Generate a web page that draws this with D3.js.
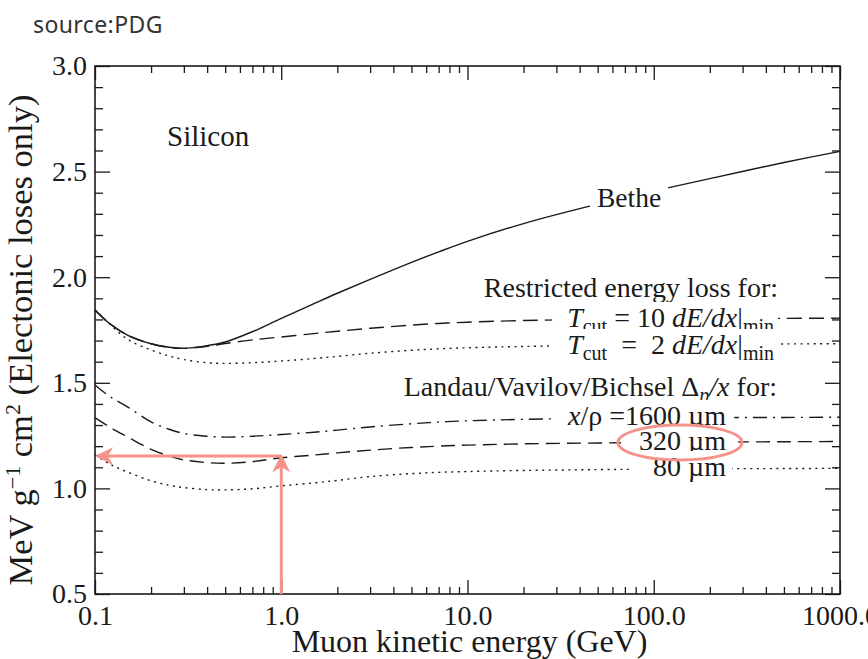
<!DOCTYPE html>
<html>
<head>
<meta charset="utf-8">
<script src="https://cdn.jsdelivr.net/npm/d3@7"></script>
<style>
  html, body { margin: 0; padding: 0; background: #fff; }
  svg { display: block; }
  text { white-space: pre; }
</style>
</head>
<body>
<svg id="chart" width="868" height="659"></svg>
<script>
// ---------------- data ----------------
const energies      = [0.1, 0.12, 0.15, 0.2, 0.25, 0.3, 0.4, 0.5, 0.7, 1, 1.5, 2, 3, 5, 7, 10, 20, 50, 100, 200, 500, 1000];
const betheValues   = [1.845, 1.780, 1.725, 1.685, 1.668, 1.663, 1.676, 1.693, 1.742, 1.805, 1.875, 1.924, 1.990, 2.070, 2.120, 2.170, 2.254, 2.346, 2.408, 2.467, 2.543, 2.596];
const tcut10Values  = [1.845, 1.780, 1.725, 1.685, 1.668, 1.663, 1.673, 1.686, 1.703, 1.717, 1.733, 1.744, 1.758, 1.773, 1.781, 1.787, 1.795, 1.800, 1.802, 1.803, 1.805, 1.806];
const tcut2Values   = [1.845, 1.778, 1.705, 1.655, 1.627, 1.610, 1.595, 1.592, 1.595, 1.603, 1.615, 1.625, 1.640, 1.654, 1.661, 1.666, 1.672, 1.677, 1.680, 1.682, 1.684, 1.685];
const lv1600Values  = [1.490, 1.435, 1.385, 1.315, 1.280, 1.260, 1.247, 1.243, 1.247, 1.255, 1.266, 1.276, 1.291, 1.306, 1.314, 1.320, 1.327, 1.332, 1.334, 1.335, 1.336, 1.337];
const lv320Values   = [1.335, 1.290, 1.243, 1.185, 1.153, 1.135, 1.122, 1.119, 1.127, 1.145, 1.158, 1.168, 1.181, 1.194, 1.200, 1.205, 1.211, 1.215, 1.217, 1.219, 1.221, 1.222];
const lv80Values    = [1.160, 1.115, 1.077, 1.036, 1.015, 1.004, 0.994, 0.993, 0.998, 1.012, 1.026, 1.038, 1.056, 1.070, 1.076, 1.080, 1.085, 1.089, 1.091, 1.093, 1.094, 1.095];

const xMajorTicks   = [0.1, 1, 10, 100, 1000];
const xTickLabels   = ["0.1", "1.0", "10.0", "100.0", "1000.0"];
const yMajorTicks   = [0.5, 1.0, 1.5, 2.0, 2.5, 3.0];
const yTickLabels   = ["0.5", "1.0", "1.5", "2.0", "2.5", "3.0"];
const xDomain       = [0.1, 1000];
const yDomain       = [0.5, 3.0];
const arrowEnergy   = 1.0;
const arrowValue    = 1.153;

// ---------------- layout ----------------
const svg = d3.select("#chart");
const L = 95, R = 840, T = 66, B = 594;
const serif = "'Liberation Serif', 'Times New Roman', serif";
const ink = "#1a1a1a";
const pink = "#f4928b";

const x = d3.scaleLog().domain(xDomain).range([L, R]);
const y = d3.scaleLinear().domain(yDomain).range([B, T]);

// minor ticks
const xMinor = [];
for (let d = 0.1; d < 1000; d *= 10) for (let k = 2; k <= 9; k++) xMinor.push(+(d * k).toPrecision(3));
const yMinor = d3.range(6, 30).map(v => v / 10).filter(v => !yMajorTicks.some(m => Math.abs(m - v) < 1e-9));

function styleAxis(g) {
  g.select(".domain").remove();
  g.selectAll("line").attr("stroke", ink).attr("stroke-width", 1.3);
  g.selectAll("text").attr("font-family", serif).attr("font-size", 28).attr("fill", ink);
}

// bottom
svg.append("g").attr("transform", `translate(0,${B})`)
  .call(d3.axisBottom(x).tickValues(xMinor).tickSize(-7).tickFormat(""))
  .call(styleAxis);
svg.append("g").attr("transform", `translate(0,${B})`)
  .call(d3.axisBottom(x).tickValues(xMajorTicks).tickSize(-14).tickPadding(11)
        .tickFormat((d, i) => xTickLabels[i]))
  .call(styleAxis);
// top
svg.append("g").attr("transform", `translate(0,${T})`)
  .call(d3.axisTop(x).tickValues(xMinor).tickSize(-7).tickFormat(""))
  .call(styleAxis);
svg.append("g").attr("transform", `translate(0,${T})`)
  .call(d3.axisTop(x).tickValues(xMajorTicks).tickSize(-14).tickFormat(""))
  .call(styleAxis);
// left
svg.append("g").attr("transform", `translate(${L},0)`)
  .call(d3.axisLeft(y).tickValues(yMinor).tickSize(-8).tickFormat(""))
  .call(styleAxis);
svg.append("g").attr("transform", `translate(${L},0)`)
  .call(d3.axisLeft(y).tickValues(yMajorTicks).tickSize(-15).tickPadding(8)
        .tickFormat((d, i) => yTickLabels[i]))
  .call(styleAxis);
// right
svg.append("g").attr("transform", `translate(${R},0)`)
  .call(d3.axisRight(y).tickValues(yMinor).tickSize(-8).tickFormat(""))
  .call(styleAxis);
svg.append("g").attr("transform", `translate(${R},0)`)
  .call(d3.axisRight(y).tickValues(yMajorTicks).tickSize(-15).tickFormat(""))
  .call(styleAxis);

// frame
svg.append("rect").attr("x", L).attr("y", T).attr("width", R - L).attr("height", B - T)
  .attr("fill", "none").attr("stroke", ink).attr("stroke-width", 1.6);

// ---------------- curves ----------------
const line = d3.line().x(d => x(d[0])).y(d => y(d[1])).curve(d3.curveCatmullRom.alpha(0.5));
const series = [
  { values: tcut2Values,  dash: "2,4.5" },
  { values: tcut10Values, dash: "15,7" },
  { values: lv80Values,   dash: "2,4.5" },
  { values: lv320Values,  dash: "14,7" },
  { values: lv1600Values, dash: "14,6,2,6" },
  { values: betheValues,  dash: null }
];
const curves = svg.append("g");
series.forEach(s => {
  curves.append("path")
    .datum(energies.map((e, i) => [e, s.values[i]]))
    .attr("d", line)
    .attr("fill", "none")
    .attr("stroke", ink)
    .attr("stroke-width", 1.4)
    .attr("stroke-dasharray", s.dash);
});

// ---------------- labels ----------------
const labels = svg.append("g");
function label(xp, yp, anchor, size, parts, gap) {
  const t = labels.append("text")
    .attr("x", xp).attr("y", yp)
    .attr("text-anchor", anchor)
    .attr("font-family", serif)
    .attr("font-size", size)
    .attr("fill", ink);
  parts.forEach(p => {
    const ts = t.append("tspan").text(p.t);
    if (p.i) ts.attr("font-style", "italic");
    if (p.s) ts.attr("font-size", p.s);
    if (p.dy) ts.attr("dy", p.dy);
  });
  if (gap) {
    const bb = t.node().getBBox();
    labels.insert("rect", () => t.node())
      .attr("x", bb.x - gap[0]).attr("y", bb.y)
      .attr("width", bb.width + gap[0] + gap[1]).attr("height", bb.height)
      .attr("fill", "#fff");
  }
  return t;
}

label(167, 146, "start", 29, [{ t: "Silicon" }]);
label(597, 207, "start", 27.5, [{ t: "Bethe" }], [7, 7]);
label(778, 297, "end", 28, [{ t: "Restricted energy loss for:" }]);
label(774, 327, "end", 28, [
  { t: "T", i: true }, { t: "cut", s: 20, dy: 6 }, { t: " = 10 ", dy: -6 },
  { t: "dE/dx", i: true }, { t: "|" }, { t: "min", s: 20, dy: 6 }
], [15, 4]);
label(774, 354, "end", 28, [
  { t: "T", i: true }, { t: "cut", s: 20, dy: 6 }, { t: "  =  2 ", dy: -6 },
  { t: "dE/dx", i: true }, { t: "|" }, { t: "min", s: 20, dy: 6 }
], [15, 6]);
label(777, 396, "end", 28, [
  { t: "Landau/Vavilov/Bichsel \u0394" }, { t: "p", i: true, s: 20, dy: 6 },
  { t: "/x", i: true, dy: -6 }, { t: " for:" }
]);
label(726, 425, "end", 28, [{ t: "x", i: true }, { t: "/\u03C1 =1600 \u00B5m" }], [12, 8]);
label(726, 450, "end", 28, [{ t: "320 \u00B5m" }], [18, 12]);
label(726, 476, "end", 28, [{ t: "80 \u00B5m" }], [22, 6]);

// ---------------- axis titles ----------------
svg.append("text")
  .attr("x", (L + R) / 2 + 2).attr("y", 652)
  .attr("text-anchor", "middle")
  .attr("font-family", serif).attr("font-size", 32).attr("fill", ink)
  .text("Muon kinetic energy (GeV)");

const yt = svg.append("text")
  .attr("transform", `translate(32,340) rotate(-90)`)
  .attr("text-anchor", "middle")
  .attr("font-family", serif).attr("font-size", 34.5).attr("fill", ink);
yt.append("tspan").text("MeV g");
yt.append("tspan").attr("font-size", 22).attr("dy", -12).text("\u22121");
yt.append("tspan").attr("dy", 12).text(" cm");
yt.append("tspan").attr("font-size", 22).attr("dy", -12).text("2");
yt.append("tspan").attr("dy", 12).text(" (Electonic loses only)");

// source
svg.append("text")
  .attr("x", 33).attr("y", 33)
  .attr("font-family", "'Noto Sans', 'Open Sans', sans-serif")
  .attr("font-size", 23).attr("letter-spacing", 0.4).attr("fill", "#333")
  .text("source:PDG");

// ---------------- pink annotations ----------------
const ann = svg.append("g");
const defs = svg.append("defs");
defs.append("marker")
  .attr("id", "head").attr("viewBox", "0 0 10 10")
  .attr("refX", 9).attr("refY", 5)
  .attr("markerWidth", 6).attr("markerHeight", 6)
  .attr("markerUnits", "strokeWidth")
  .attr("orient", "auto")
  .append("path").attr("d", "M0,0 L10,5 L0,10 L3,5 Z").attr("fill", pink);

const ax = x(arrowEnergy), ay = y(arrowValue);
ann.append("line")
  .attr("x1", ax).attr("y1", B).attr("x2", ax).attr("y2", ay)
  .attr("stroke", pink).attr("stroke-width", 3).attr("marker-end", "url(#head)");
ann.append("line")
  .attr("x1", ax).attr("y1", ay).attr("x2", L + 2).attr("y2", ay)
  .attr("stroke", pink).attr("stroke-width", 3).attr("marker-end", "url(#head)");
ann.append("ellipse")
  .attr("cx", 680).attr("cy", 442.5).attr("rx", 62).attr("ry", 17.5)
  .attr("fill", "none").attr("stroke", pink).attr("stroke-width", 3);
</script>
</body>
</html>
